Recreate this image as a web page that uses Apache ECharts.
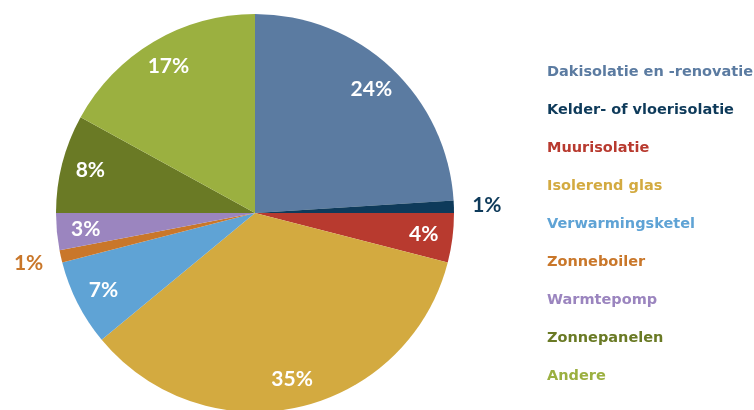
<!DOCTYPE html>
<html>
<head>
<meta charset="utf-8">
<script src="https://cdn.jsdelivr.net/npm/echarts@6/dist/echarts.min.js"></script>
<style>
  html, body { margin: 0; padding: 0; background: #fff; }
  #chart { width: 754px; height: 410px; }
</style>
</head>
<body>
<div id="chart"></div>
<script>
var categories = ['Dakisolatie en -renovatie', 'Kelder- of vloerisolatie', 'Muurisolatie', 'Isolerend glas',
    'Verwarmingsketel', 'Zonneboiler', 'Warmtepomp', 'Zonnepanelen', 'Andere'];
var values = [24, 1, 4, 35, 7, 1, 3, 8, 17];
var palette = ['#5b7ba1', '#0e3a5a', '#b83a2f', '#d3aa40', '#5fa3d5', '#c9772a', '#9b85bf', '#6a7a25', '#9bb040'];

var chart = echarts.init(document.getElementById('chart'));
var center = [255, 213];
var fontFam = 'Lato, "Open Sans", sans-serif';

// gewone data voor de taart zelf
var pieData = categories.map(function (name, i) {
    return { name: name, value: values[i], itemStyle: { color: palette[i] } };
});
// labels binnenin (alleen de grotere stukken)
var innerLabelData = categories.map(function (name, i) {
    return { name: name, value: values[i], label: { show: values[i] > 1 } };
});
// labels buiten voor de kleine stukjes
var outerLabelData = categories.map(function (name, i) {
    return { name: name, value: values[i], label: { show: values[i] <= 1, color: palette[i] } };
});

var option = {
    animation: false,
    legend: {
        orient: 'vertical',
        left: 537,
        top: 58,
        icon: 'none',
        itemWidth: 0,
        itemHeight: 18,
        itemGap: 20,
        selectedMode: false,
        textStyle: { fontFamily: '"DejaVu Sans", sans-serif', fontSize: 14.5, fontWeight: 'bold', lineHeight: 18, padding: 0 },
        data: categories.map(function (name, i) {
            return { name: name, textStyle: { color: palette[i] } };
        })
    },
    series: [
        {
            name: 'main',
            type: 'pie',
            center: center,
            radius: [0, 199],
            startAngle: 90,
            clockwise: true,
            label: { show: false },
            labelLine: { show: false },
            silent: true,
            data: pieData
        },
        {
            name: 'inner',
            type: 'pie',
            center: center,
            radius: [135, 199],
            startAngle: 90,
            silent: true,
            itemStyle: { color: 'rgba(0,0,0,0)' },
            label: {
                position: 'inside',
                formatter: '{c}%',
                color: '#fff',
                fontFamily: fontFam,
                fontSize: 21,
                fontWeight: 'bold'
            },
            labelLine: { show: false },
            data: innerLabelData
        },
        {
            name: 'outer',
            type: 'pie',
            center: center,
            radius: [212, 246],
            startAngle: 90,
            silent: true,
            itemStyle: { color: 'rgba(0,0,0,0)' },
            label: {
                position: 'inside',
                formatter: '{c}%',
                fontFamily: fontFam,
                fontSize: 21,
                fontWeight: 'bold'
            },
            labelLine: { show: false },
            data: outerLabelData
        }
    ]
};
chart.setOption(option);
</script>
</body>
</html>
